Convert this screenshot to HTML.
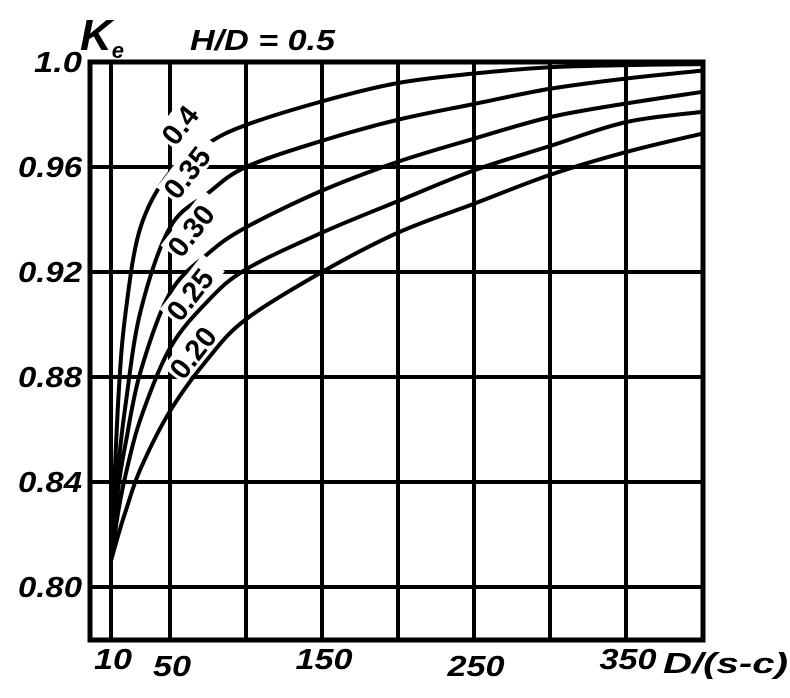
<!DOCTYPE html>
<html><head><meta charset="utf-8">
<style>
html,body{margin:0;padding:0;background:#fff;}
svg{display:block;font-family:"Liberation Sans",Arial,sans-serif;}
</style></head>
<body>
<svg id="chart" width="790" height="698" viewBox="0 0 790 698">
<g id="grid"></g>
<g id="curves"></g>
<g id="labels"></g>
<text x="80" y="50" font-size="44" font-weight="bold" font-style="italic">K<tspan font-size="22" dy="8">e</tspan></text>
<text x="190" y="50" font-size="29" font-weight="bold" font-style="italic" textLength="145" lengthAdjust="spacingAndGlyphs">H/D = 0.5</text>
<text x="663" y="673" font-size="29" font-weight="bold" font-style="italic" textLength="125" lengthAdjust="spacingAndGlyphs">D/(s-c)</text>
</svg>
<script>
const xGrid = [10, 50, 100, 150, 200, 250, 300, 350];
const yGrid = [0.80, 0.84, 0.88, 0.92, 0.96, 1.0];
const yTickLabels = ["0.80", "0.84", "0.88", "0.92", "0.96", "1.0"];
const xTickValues = [10, 50, 150, 250, 350];
const xTickLabels = ["10", "50", "150", "250", "350"];
const xs = [10, 15, 20, 30, 50, 75, 100, 150, 200, 250, 300, 350, 400];
const seriesNames = ["0.4", "0.35", "0.30", "0.25", "0.20"];
const k040 = [0.81, 0.872, 0.905, 0.937, 0.958, 0.969, 0.976, 0.985, 0.992, 0.9956, 0.998, 0.9988, 0.9992];
const k035 = [0.81, 0.846, 0.87, 0.905, 0.937, 0.950, 0.960, 0.970, 0.978, 0.984, 0.9898, 0.9937, 0.9967];
const k030 = [0.81, 0.838, 0.855, 0.882, 0.912, 0.927, 0.937, 0.951, 0.962, 0.9708, 0.979, 0.9842, 0.9886];
const k025 = [0.81, 0.829, 0.843, 0.864, 0.891, 0.909, 0.921, 0.935, 0.947, 0.9587, 0.968, 0.9771, 0.981];
const k020 = [0.81, 0.82, 0.829, 0.845, 0.867, 0.887, 0.902, 0.920, 0.935, 0.946, 0.957, 0.9657, 0.9727];
const seriesValues = [k040, k035, k030, k025, k020];

const NS = "http://www.w3.org/2000/svg";
function xS(v){ return v <= 50 ? 170 + (v - 50) * 1.475 : 170 + (v - 50) * 1.52; }
function yS(v){ return 587 - (v - 0.8) * 2625; }
const L = 90, R = 703, T = 62, B = 640;

const grid = document.getElementById('grid');
function line(parent, x1, y1, x2, y2, w, name){
  const l = document.createElementNS(NS, 'line');
  l.setAttribute('x1', x1); l.setAttribute('y1', y1);
  l.setAttribute('x2', x2); l.setAttribute('y2', y2);
  l.setAttribute('stroke', '#000'); l.setAttribute('stroke-width', w);
  
  
  parent.appendChild(l);
}
xGrid.forEach(v => line(grid, xS(v), T, xS(v), B, 4, 'x-gridline'));
yGrid.forEach(v => line(grid, L, yS(v), R, yS(v), 4, 'y-gridline'));
const frame = document.createElementNS(NS, 'rect');
frame.setAttribute('x', L); frame.setAttribute('y', T);
frame.setAttribute('width', R - L); frame.setAttribute('height', B - T);
frame.setAttribute('fill', 'none'); frame.setAttribute('stroke', '#000'); frame.setAttribute('stroke-width', 5);


grid.appendChild(frame);

const labels = document.getElementById('labels');
function txt(x, y, s, anchor, name, size, len){
  const t = document.createElementNS(NS, 'text');
  t.setAttribute('x', x); t.setAttribute('y', y);
  t.setAttribute('text-anchor', anchor);
  t.setAttribute('font-size', size || 28);
  t.setAttribute('font-weight', 'bold'); t.setAttribute('font-style', 'italic');
  if (len) { t.setAttribute('textLength', len); t.setAttribute('lengthAdjust', 'spacingAndGlyphs'); }
  t.textContent = s;
  
  
  labels.appendChild(t);
  return t;
}
yGrid.forEach((v, i) => txt(82, yS(v) + 10, yTickLabels[i], 'end', 'y-tick-label', 29, yTickLabels[i].length * 16));
xTickValues.forEach((v, i) => txt(xS(v) + 2, (i % 2 ? 676 : 669), xTickLabels[i], 'middle', 'x-tick-label', 29, xTickLabels[i].length * 19));

const curves = document.getElementById('curves');
function pathFor(vals){
  const p = xs.map((x, i) => [xS(x), yS(vals[i])]);
  let d = 'M' + p[0][0] + ',' + p[0][1];
  for (let i = 0; i < p.length - 1; i++){
    const p0 = p[Math.max(0, i - 1)], p1 = p[i], p2 = p[i + 1], p3 = p[Math.min(p.length - 1, i + 2)];
    const c1x = p1[0] + (p2[0] - p0[0]) / 6, c1y = p1[1] + (p2[1] - p0[1]) / 6;
    const c2x = p2[0] - (p3[0] - p1[0]) / 6, c2y = p2[1] - (p3[1] - p1[1]) / 6;
    d += ' C' + c1x + ',' + c1y + ' ' + c2x + ',' + c2y + ' ' + p2[0] + ',' + p2[1];
  }
  return d;
}
seriesValues.forEach((vals, i) => {
  const path = document.createElementNS(NS, 'path');
  path.setAttribute('d', pathFor(vals));
  path.setAttribute('fill', 'none'); path.setAttribute('stroke', '#000'); path.setAttribute('stroke-width', 4);
  path.setAttribute('stroke-linejoin', 'round');
  
  
  curves.appendChild(path);
});

const labelPos = [[178, 144], [180, 198], [184, 256], [183, 320], [186, 378]];
labelPos.forEach((pos, i) => {
  const g = document.createElementNS(NS, 'g');
  g.setAttribute('transform', 'translate(' + pos[0] + ',' + pos[1] + ') rotate(-52)');
  
  
  const w = seriesNames[i].length * 16 + 6;
  const r = document.createElementNS(NS, 'rect');
  r.setAttribute('x', -6); r.setAttribute('y', -25); r.setAttribute('width', w); r.setAttribute('height', 28);
  r.setAttribute('fill', '#fff');
  g.appendChild(r);
  const t = document.createElementNS(NS, 'text');
  t.setAttribute('x', -4); t.setAttribute('y', 0);
  t.setAttribute('font-size', 29); t.setAttribute('font-weight', 'bold');
  t.textContent = seriesNames[i];
  g.appendChild(t);
  labels.appendChild(g);
});
</script>
</body></html>
